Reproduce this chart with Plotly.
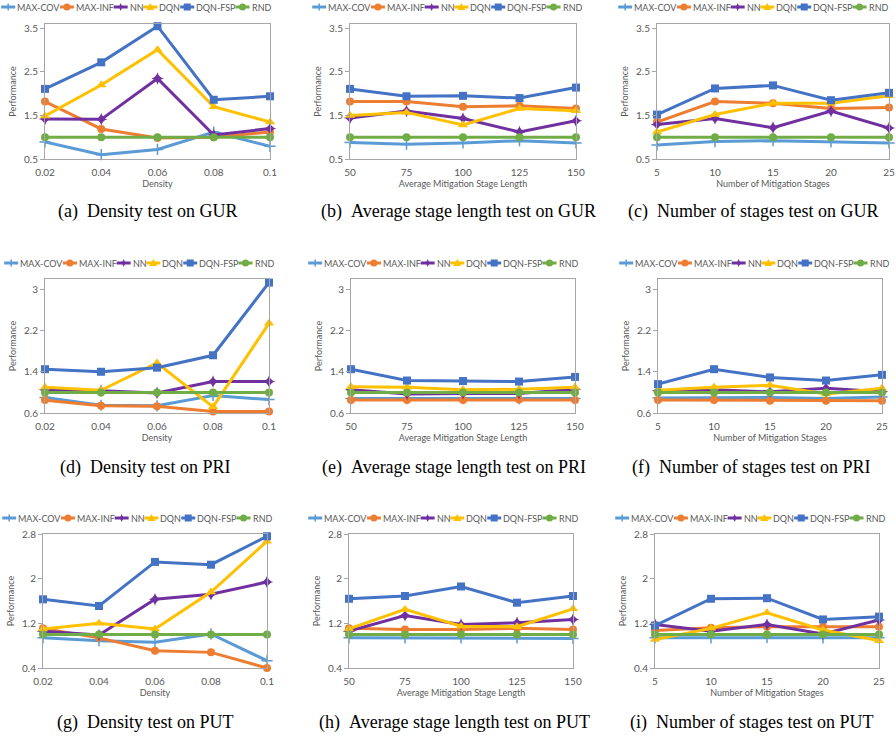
import plotly.graph_objects as go
from plotly.subplots import make_subplots

W, H = 896, 740

# ---------------- data ----------------
series_names = ["MAX-COV", "MAX-INF", "NN", "DQN", "DQN-FSP", "RND"]

density = ["0.02", "0.04", "0.06", "0.08", "0.1"]
stage_length = ["50", "75", "100", "125", "150"]
num_stages = ["5", "10", "15", "20", "25"]

# (a) Density test on GUR
gur_density_maxcov = [0.89, 0.60, 0.72, 1.12, 0.79]
gur_density_maxinf = [1.82, 1.19, 0.98, 1.00, 1.12]
gur_density_nn = [1.42, 1.41, 2.35, 1.05, 1.20]
gur_density_dqn = [1.49, 2.20, 3.01, 1.70, 1.35]
gur_density_dqnfsp = [2.11, 2.72, 3.55, 1.86, 1.94]
gur_density_rnd = [1.0, 1.0, 1.0, 1.0, 1.0]

# (b) Average stage length test on GUR
gur_length_maxcov = [0.88, 0.84, 0.87, 0.92, 0.87]
gur_length_maxinf = [1.82, 1.82, 1.70, 1.72, 1.66]
gur_length_nn = [1.44, 1.60, 1.43, 1.12, 1.38]
gur_length_dqn = [1.50, 1.57, 1.28, 1.66, 1.61]
gur_length_dqnfsp = [2.11, 1.94, 1.95, 1.90, 2.14]
gur_length_rnd = [1.0, 1.0, 1.0, 1.0, 1.0]

# (c) Number of stages test on GUR
gur_stages_maxcov = [0.82, 0.90, 0.92, 0.89, 0.87]
gur_stages_maxinf = [1.35, 1.82, 1.78, 1.66, 1.68]
gur_stages_nn = [1.29, 1.43, 1.22, 1.60, 1.21]
gur_stages_dqn = [1.12, 1.52, 1.78, 1.78, 1.95]
gur_stages_dqnfsp = [1.52, 2.12, 2.19, 1.85, 2.02]
gur_stages_rnd = [1.0, 1.0, 1.0, 1.0, 1.0]

# (d) Density test on PRI
pri_density_maxcov = [0.90, 0.75, 0.74, 0.94, 0.86]
pri_density_maxinf = [0.85, 0.74, 0.73, 0.63, 0.63]
pri_density_nn = [1.05, 1.03, 0.99, 1.21, 1.21]
pri_density_dqn = [1.10, 1.04, 1.57, 0.72, 2.34]
pri_density_dqnfsp = [1.45, 1.40, 1.48, 1.72, 3.13]
pri_density_rnd = [1.0, 1.0, 1.0, 1.0, 1.0]

# (e) Average stage length test on PRI
pri_length_maxcov = [0.88, 0.88, 0.88, 0.88, 0.88]
pri_length_maxinf = [0.85, 0.85, 0.85, 0.86, 0.85]
pri_length_nn = [1.05, 0.97, 0.98, 0.98, 1.06]
pri_length_dqn = [1.11, 1.10, 1.05, 1.06, 1.10]
pri_length_dqnfsp = [1.45, 1.23, 1.22, 1.21, 1.30]
pri_length_rnd = [1.0, 1.0, 1.0, 1.0, 1.0]

# (f) Number of stages test on PRI
pri_stages_maxcov = [0.89, 0.89, 0.90, 0.88, 0.91]
pri_stages_maxinf = [0.85, 0.85, 0.84, 0.84, 0.84]
pri_stages_nn = [1.03, 1.05, 1.01, 1.08, 1.01]
pri_stages_dqn = [1.04, 1.10, 1.14, 0.97, 1.08]
pri_stages_dqnfsp = [1.16, 1.45, 1.29, 1.23, 1.34]
pri_stages_rnd = [1.0, 1.0, 1.0, 1.0, 1.0]

# (g) Density test on PUT
put_density_maxcov = [0.94, 0.89, 0.86, 1.01, 0.53]
put_density_maxinf = [1.11, 0.94, 0.71, 0.68, 0.40]
put_density_nn = [1.06, 0.99, 1.63, 1.72, 1.94]
put_density_dqn = [1.10, 1.20, 1.10, 1.76, 2.67]
put_density_dqnfsp = [1.63, 1.51, 2.30, 2.25, 2.76]
put_density_rnd = [1.0, 1.0, 1.0, 1.0, 1.0]

# (h) Average stage length test on PUT
put_length_maxcov = [0.94, 0.94, 0.94, 0.94, 0.93]
put_length_maxinf = [1.11, 1.09, 1.09, 1.11, 1.09]
put_length_nn = [1.06, 1.34, 1.18, 1.21, 1.27]
put_length_dqn = [1.10, 1.45, 1.15, 1.14, 1.46]
put_length_dqnfsp = [1.64, 1.69, 1.86, 1.57, 1.69]
put_length_rnd = [1.0, 1.0, 1.0, 1.0, 1.0]

# (i) Number of stages test on PUT
put_stages_maxcov = [0.94, 0.94, 0.95, 0.94, 0.94]
put_stages_maxinf = [1.07, 1.12, 1.14, 1.14, 1.14]
put_stages_nn = [1.18, 1.06, 1.18, 1.01, 1.26]
put_stages_dqn = [0.91, 1.11, 1.39, 1.08, 0.89]
put_stages_dqnfsp = [1.16, 1.64, 1.65, 1.27, 1.32]
put_stages_rnd = [1.0, 1.0, 1.0, 1.0, 1.0]

# y-axis ticks per dataset (row)
gur_yticks = [0.5, 1.5, 2.5, 3.5]
gur_yticktext = ["0.5", "1.5", "2.5", "3.5"]
gur_yrange = [0.5, 3.6]
pri_yticks = [0.6, 1.4, 2.2, 3.0]
pri_yticktext = ["0.6", "1.4", "2.2", "3"]
pri_yrange = [0.6, 3.2]
put_yticks = [0.4, 1.2, 2.0, 2.8]
put_yticktext = ["0.4", "1.2", "2", "2.8"]
put_yrange = [0.4, 2.8]

x_titles = ["Density", "Average Mitigation Stage Length", "Number of Mitigation Stages"]
captions = [
    "(a)\u2002Density test on GUR", "(b)\u2002Average stage length test on GUR", "(c)\u2002Number of stages test on GUR",
    "(d)\u2002Density test on PRI", "(e)\u2002Average stage length test on PRI", "(f)\u2002Number of stages test on PRI",
    "(g)\u2002Density test on PUT", "(h)\u2002Average stage length test on PUT", "(i)\u2002Number of stages test on PUT",
]

# ---------------- styling ----------------
colors = ["#5B9BD5", "#ED7D31", "#7030A0", "#FFC000", "#4472C4", "#70AD47"]
symbols = ["cross-thin", "circle", "star-diamond", "triangle-up", "square", "circle"]
msizes = [8, 8, 9, 9, 8, 8]
TXT = "#595959"
FRAME = "#a6a6a6"
FONT = "Lato"

panel_data = [
    (density, [gur_density_maxcov, gur_density_maxinf, gur_density_nn, gur_density_dqn, gur_density_dqnfsp, gur_density_rnd]),
    (stage_length, [gur_length_maxcov, gur_length_maxinf, gur_length_nn, gur_length_dqn, gur_length_dqnfsp, gur_length_rnd]),
    (num_stages, [gur_stages_maxcov, gur_stages_maxinf, gur_stages_nn, gur_stages_dqn, gur_stages_dqnfsp, gur_stages_rnd]),
    (density, [pri_density_maxcov, pri_density_maxinf, pri_density_nn, pri_density_dqn, pri_density_dqnfsp, pri_density_rnd]),
    (stage_length, [pri_length_maxcov, pri_length_maxinf, pri_length_nn, pri_length_dqn, pri_length_dqnfsp, pri_length_rnd]),
    (num_stages, [pri_stages_maxcov, pri_stages_maxinf, pri_stages_nn, pri_stages_dqn, pri_stages_dqnfsp, pri_stages_rnd]),
    (density, [put_density_maxcov, put_density_maxinf, put_density_nn, put_density_dqn, put_density_dqnfsp, put_density_rnd]),
    (stage_length, [put_length_maxcov, put_length_maxinf, put_length_nn, put_length_dqn, put_length_dqnfsp, put_length_rnd]),
    (num_stages, [put_stages_maxcov, put_stages_maxinf, put_stages_nn, put_stages_dqn, put_stages_dqnfsp, put_stages_rnd]),
]
row_y = [
    (gur_yticks, gur_yticktext, gur_yrange),
    (pri_yticks, pri_yticktext, pri_yrange),
    (put_yticks, put_yticktext, put_yrange),
]

# pixel boxes (left, right, top, bottom) of each plot area
panel_boxes = [
    (45, 270, 24, 159), (350, 576, 24, 159), (657, 889, 24, 159),
    (45, 269, 279, 413), (351, 575, 279, 413), (658, 882, 279, 413),
    (43, 267, 534, 668), (349, 573, 534, 668), (655, 879, 534, 668),
]
legend_centers = [(136, 7), (447, 7), (753, 7),
                  (139, 263), (443, 263), (754, 263),
                  (137, 518), (443, 518), (750, 518)]
caption_centers = [(147, 212), (458, 212), (753, 212),
                   (145, 467), (454, 467), (751, 467),
                   (145, 722), (454, 722), (751, 722)]


def fx(x):
    return x / W


def fy(y):
    return 1 - y / H


fig = make_subplots(rows=3, cols=3)

for k, (cats, ys) in enumerate(panel_data):
    r, c = k // 3 + 1, k % 3 + 1
    for i, name in enumerate(series_names):
        mk = dict(symbol=symbols[i], size=msizes[i], color=colors[i],
                  line=dict(width=1.5 if symbols[i] == "cross-thin" else 0, color=colors[i]))
        fig.add_trace(go.Scatter(x=cats, y=ys[i], mode="lines+markers", name=name,
                                 line=dict(color=colors[i], width=3), marker=mk,
                                 cliponaxis=False, showlegend=False),
                      row=r, col=c)

    L, R, T, B = panel_boxes[k]
    sfx = "" if k == 0 else str(k + 1)
    tv, tt, yr = row_y[k // 3]
    fig.layout["xaxis" + sfx].update(
        domain=[fx(L), fx(R)], range=[0, 4], type="category",
        showline=True, mirror=True, linecolor=FRAME, linewidth=1,
        showgrid=False, zeroline=False, ticks="", ticklabelstandoff=4,
        tickfont=dict(family=FONT, size=10, color=TXT),
        title=dict(text=x_titles[k % 3], font=dict(family=FONT, size=9, color=TXT), standoff=2),
        automargin=False, fixedrange=True)
    fig.layout["yaxis" + sfx].update(
        domain=[fy(B), fy(T)], range=yr, tickvals=tv, ticktext=tt,
        showline=True, mirror=True, linecolor=FRAME, linewidth=1,
        showgrid=False, zeroline=False, ticks="outside", ticklen=4, tickcolor=FRAME,
        tickfont=dict(family=FONT, size=10, color=TXT),
        title=dict(text="Performance", font=dict(family=FONT, size=9, color=TXT), standoff=5),
        automargin=False, fixedrange=True)

# ---------------- manual legends ----------------
LEG_FONT = 9
SYM_W = 15
GAP = 1
char_w = {"A": .68, "C": .67, "D": .76, "F": .55, "I": .28, "M": .90, "N": .76, "O": .80,
          "P": .60, "Q": .80, "R": .62, "S": .53, "V": .68, "X": .65, "-": .37}


def text_w(s):
    return sum(char_w.get(ch, .6) for ch in s) * LEG_FONT


shapes = []
annotations = []
for k in range(9):
    cx, cy = legend_centers[k]
    widths = [SYM_W + text_w(n) + GAP for n in series_names]
    x = cx - sum(widths) / 2
    for i, name in enumerate(series_names):
        col = colors[i]
        shapes.append(dict(type="line", xref="paper", yref="paper",
                           x0=fx(x), x1=fx(x + SYM_W - 1), y0=fy(cy), y1=fy(cy),
                           line=dict(color=col, width=3)))
        mx = x + (SYM_W - 1) / 2
        s = symbols[i]
        if s == "circle":
            rr = 3.5
            shapes.append(dict(type="circle", xref="paper", yref="paper",
                               x0=fx(mx - rr), x1=fx(mx + rr), y0=fy(cy + rr), y1=fy(cy - rr),
                               fillcolor=col, line=dict(width=0)))
        elif s == "square":
            rr = 3.5
            shapes.append(dict(type="rect", xref="paper", yref="paper",
                               x0=fx(mx - rr), x1=fx(mx + rr), y0=fy(cy + rr), y1=fy(cy - rr),
                               fillcolor=col, line=dict(width=0)))
        elif s == "triangle-up":
            rr = 4
            p = "M {} {} L {} {} L {} {} Z".format(fx(mx - rr), fy(cy + rr * 0.75), fx(mx + rr), fy(cy + rr * 0.75),
                                                 fx(mx), fy(cy - rr))
            shapes.append(dict(type="path", xref="paper", yref="paper", path=p,
                               fillcolor=col, line=dict(width=0)))
        elif s == "star-diamond":
            rr, q = 4, 1.2
            pts = [(mx, cy - rr), (mx + q, cy - q), (mx + rr, cy), (mx + q, cy + q),
                   (mx, cy + rr), (mx - q, cy + q), (mx - rr, cy), (mx - q, cy - q)]
            p = "M " + " L ".join("{} {}".format(fx(a), fy(b)) for a, b in pts) + " Z"
            shapes.append(dict(type="path", xref="paper", yref="paper", path=p,
                               fillcolor=col, line=dict(width=0)))
        elif s == "cross-thin":
            shapes.append(dict(type="line", xref="paper", yref="paper",
                               x0=fx(mx), x1=fx(mx), y0=fy(cy - 3.5), y1=fy(cy + 3.5),
                               line=dict(color=col, width=1.5)))
        annotations.append(dict(text=name, xref="paper", yref="paper", x=fx(x + SYM_W), y=fy(cy),
                                xanchor="left", yanchor="middle", showarrow=False, borderpad=0,
                                font=dict(family=FONT, size=LEG_FONT, color=TXT)))
        x += widths[i]

# ---------------- captions ----------------
for k in range(9):
    cx, cy = caption_centers[k]
    annotations.append(dict(text=captions[k], xref="paper", yref="paper", x=fx(cx), y=fy(cy),
                            xanchor="center", yanchor="middle", showarrow=False,
                            font=dict(family="Liberation Serif", size=18, color="#000000")))

fig.update_layout(width=W, height=H, margin=dict(l=0, r=0, t=0, b=0),
                  paper_bgcolor="white", plot_bgcolor="white",
                  shapes=shapes, annotations=annotations, showlegend=False,
                  font=dict(family=FONT, color=TXT))

fig.write_html("out.html", config={"displayModeBar": False, "staticPlot": True},
               post_script="document.body.style.margin='0';")
